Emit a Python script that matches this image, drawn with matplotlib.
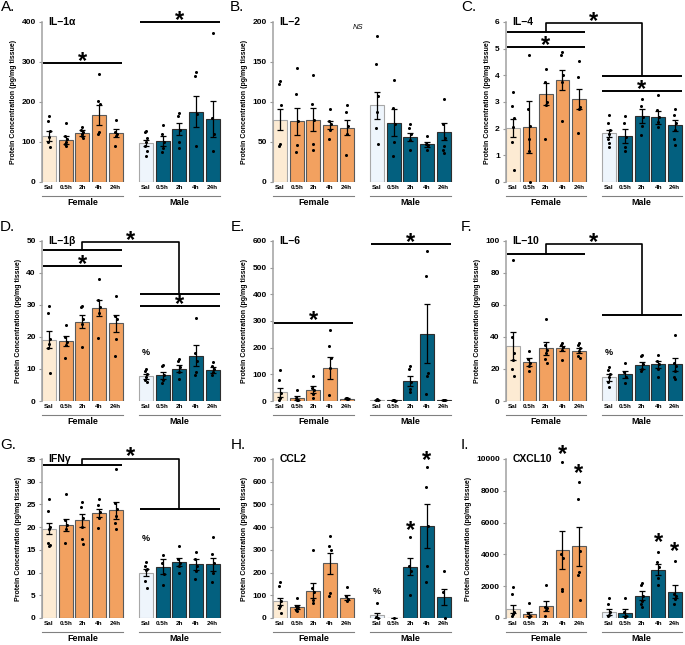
import matplotlib
matplotlib.use("Agg")
import matplotlib.pyplot as plt
import matplotlib.transforms as mtransforms

plt.rcParams["font.family"] = ["Liberation Sans", "DejaVu Sans"]

# bar layout: 5 female bars, gap, 5 male bars
LABELS = ["Sal", "0.5h", "2h", "4h", "24h", "Sal", "0.5h", "2h", "4h", "24h"]
POS = [0, 1, 2, 3, 4, 5.8, 6.8, 7.8, 8.8, 9.8]
GROUPS = ["Female", "Male"]

# A. IL-1a
il1a_mean = [115, 105, 122, 168, 123, 98, 102, 132, 176, 157]
il1a_sem = [13, 10, 7, 25, 10, 8, 12, 15, 39, 45]
il1a_pts = [[165, 152, 128, 112, 100, 88], [147, 115, 108, 100, 95, 90],
            [137, 130, 125, 120, 115, 110], [270, 203, 195, 125, 120],
            [155, 125, 120, 115, 90], [128, 125, 110, 100, 90, 78, 65],
            [143, 120, 100, 85, 75], [172, 165, 130, 100, 85],
            [275, 265, 170, 90], [373, 160, 120, 78]]

# B. IL-2
il2_mean = [78, 76, 78, 71, 68, 96, 74, 56, 47, 63]
il2_sem = [13, 17, 14, 5, 9, 17, 17, 5, 3, 11]
il2_pts = [[126, 123, 96, 48, 45], [143, 110, 76, 46, 37],
           [134, 97, 78, 48, 40], [91, 76, 72, 65, 54],
           [96, 88, 70, 60, 34], [183, 147, 107, 87, 67, 48],
           [127, 92, 73, 50, 32], [72, 68, 60, 52, 40],
           [57, 48, 46, 40], [104, 73, 55, 45, 40, 36]]

# C. IL-4
il4_mean = [2.02, 2.07, 3.3, 3.83, 3.12, 1.83, 1.72, 2.48, 2.43, 2.12]
il4_sem = [0.35, 0.97, 0.41, 0.38, 0.38, 0.13, 0.27, 0.25, 0.25, 0.19]
il4_pts = [[3.37, 2.85, 2.4, 2.05, 1.5, 0.45], [4.75, 2.75, 2.1, 1.6, 1.15, 0.0],
           [4.22, 3.75, 3.0, 2.9, 1.63], [4.87, 4.75, 4.0, 3.75, 2.28],
           [4.53, 3.95, 2.82, 2.75, 1.85], [2.5, 2.2, 1.95, 1.8, 1.6, 1.45, 1.3],
           [2.47, 2.2, 1.7, 1.3, 1.15], [3.1, 2.85, 2.45, 2.1, 1.75],
           [3.25, 2.7, 2.45, 2.25, 2.05], [2.73, 2.5, 2.2, 1.95, 1.6, 1.4]]

# D. IL-1b
il1b_mean = [19.2, 18.8, 24.8, 29.0, 24.3, 7.7, 8.0, 10.1, 14.1, 9.6]
il1b_sem = [2.6, 1.5, 2.0, 2.5, 2.7, 0.8, 1.2, 1.0, 3.3, 0.9]
il1b_pts = [[29.8, 27.5, 19.5, 17.8, 16.5, 8.8], [23.8, 20.0, 18.5, 17.5, 13.5],
            [29.8, 29.5, 25.5, 24.0, 17.0], [38.0, 31.5, 29.5, 27.5, 19.8],
            [32.7, 26.5, 25.5, 19.5, 14.2], [10.0, 9.5, 8.5, 7.5, 6.5, 5.8],
            [11.2, 10.8, 8.0, 6.5, 5.5], [13.0, 12.5, 10.5, 9.0, 7.0],
            [26.0, 15.0, 12.5, 9.0, 8.0], [12.3, 11.0, 10.0, 9.0, 8.0]]

# E. IL-6
il6_mean = [32, 10, 43, 125, 9, 4, 2, 75, 252, 3]
il6_sem = [16, 7, 12, 41, 1.5, 1, 0.5, 17, 110, 1]
il6_pts = [[118, 77, 30, 10, 5], [43, 10, 5, 2], [95, 50, 40, 25, 12],
           [267, 207, 160, 125, 22], [12, 10, 8, 7], [6, 4, 3], [3, 2, 1],
           [130, 120, 70, 45, 35], [563, 468, 105, 95, 25], [5, 3, 2]]

# F. IL-10
il10_mean = [34.5, 24.3, 33, 33, 31.5, 14.8, 16.8, 22.3, 22.9, 22.9]
il10_sem = [8.9, 2.3, 4, 1.5, 1.5, 2.2, 2.2, 2.2, 2, 4]
il10_pts = [[88, 40, 30, 25.5, 20, 15.5], [31, 26.5, 24, 22, 18.5],
            [51, 35, 32, 30, 26, 24], [36, 35, 34, 32, 25.5],
            [36.5, 35, 33, 31, 28, 27], [21, 19.5, 17, 15, 12, 8.5],
            [23.5, 18, 15, 11], [29, 28, 23, 20, 18.5],
            [28.5, 25, 23, 20, 15], [41, 23.5, 22, 19, 15, 13.5]]

# G. IFNg
ifng_mean = [19.7, 20.5, 21.5, 23.2, 23.7, 10.0, 11.3, 12.3, 11.8, 11.8]
ifng_sem = [1.2, 1.4, 1.5, 0.9, 1.9, 0.8, 1.6, 0.8, 1.2, 1.5]
ifng_pts = [[26.2, 23.5, 20, 19.5, 16.5, 16.0, 15.8], [27.2, 21.5, 20.5, 19.5, 16.5],
            [25.5, 24.5, 22, 20, 17.5, 16.2], [26.2, 24.8, 23.3, 22, 19.8],
            [32.9, 25.4, 24.0, 22.5, 21.0, 19.5], [12.3, 11.5, 10.8, 10.5, 8.2, 6.5],
            [13.8, 12.0, 9.6, 7.3], [15.8, 13.0, 12.0, 11.5, 10.0],
            [14.6, 13.0, 11.5, 10.3, 8.6], [17.8, 14.0, 12.0, 10.0, 8.0]]

# H. CCL2
ccl2_mean = [73, 48, 121, 241, 90, 12, 0, 225, 407, 93]
ccl2_sem = [17, 8, 35, 46, 10, 10, 0, 37, 97, 35]
ccl2_pts = [[160, 143, 75, 55, 45, 20], [88, 55, 48, 42, 35, 30],
            [300, 130, 115, 80, 65], [360, 315, 300, 110, 95],
            [138, 95, 85, 75], [68, 5, 0], [0],
            [358, 230, 205, 100], [665, 577, 405, 228, 160], [205, 115, 0]]

# I. CXCL10
cxcl10_mean = [550, 250, 750, 4280, 4500, 370, 330, 1400, 3050, 1660]
cxcl10_sem = [250, 150, 300, 1200, 1200, 170, 230, 270, 355, 390]
cxcl10_pts = [[1950, 1480, 400, 250, 100], [950, 300, 150, 50],
              [2100, 700, 650, 500, 100], [9830, 4000, 3800, 1800, 1700],
              [8550, 7470, 4200, 2900, 2700, 1150], [1280, 900, 400, 200, 100],
              [1250, 400, 150, 50], [2200, 2050, 1400, 1100, 850, 700],
              [4170, 3500, 3200, 2500, 2100], [3600, 1500, 1400, 1200, 900]]

FILL = ["#FDEBD3"] + ["#F2A160"] * 4 + ["#EEF5FC"] + ["#03607F"] * 4
EDGE = ["#A8A8A8"] + ["#5A5A5A"] * 4 + ["#A8A8A8"] + ["#2E2E2E"] * 4
JIT = [0.0, -0.06, 0.06, 0.0, -0.04, 0.04, 0.0]
SPAN = {"F": (-0.36, 4.38), "M": (5.42, 10.22)}
UNDER = [(-0.42, 4.42), (5.38, 10.22)]
FC, MC = 2.0, 7.8

W, H = 685, 645
COLS = [(42, 222), (273, 453), (506, 684)]
ROWS = [(22, 182), (241, 401), (459, 618)]
LETTER_POS = [(1, 7), (230, 7), (461, 7), (0, 227), (231, 227), (461, 227),
              (0, 445), (231, 445), (461, 445)]

fig = plt.figure(figsize=(W / 100, H / 100), dpi=100)


def make_ax(i):
    l, r = COLS[i % 3]
    t, b = ROWS[i // 3]
    return fig.add_axes([l / W, 1 - b / H, (r - l) / W, (b - t) / H])


def draw(ax, mean, sem, pts, ymax, step, title):
    ax.bar(POS, mean, width=0.84, color=FILL, edgecolor=EDGE, linewidth=0.8, zorder=2)
    ax.errorbar(POS, mean, yerr=sem, fmt="none", ecolor="black", elinewidth=0.9,
                capsize=2.5, capthick=0.9, zorder=4)
    for x, vals in zip(POS, pts):
        xs = [x + JIT[i % len(JIT)] for i in range(len(vals))]
        ax.plot(xs, vals, "o", color="black", ms=2.2, mew=0, zorder=3, clip_on=False)

    ax.set_xlim(-0.42, 10.36)
    ax.set_ylim(0, ymax)
    ticks = [k * step for k in range(int(round(ymax / step)) + 1)]
    ax.set_yticks(ticks)
    ax.set_yticklabels([f"{t:g}" for t in ticks], fontsize=6, fontweight="bold")
    ax.set_xticks(POS)
    ax.set_xticklabels(LABELS, fontsize=4.6, fontweight="bold")
    ax.tick_params(axis="x", length=0, pad=2.5)
    ax.tick_params(axis="y", length=2.5, width=0.8, color="#999999", pad=2)
    for s in ["top", "right", "bottom"]:
        ax.spines[s].set_visible(False)
    ax.spines["left"].set_color("#A0A0A0")
    ax.spines["left"].set_linewidth(1.1)
    ax.set_ylabel("Protein Concentration (pg/mg tissue)", fontsize=5, fontweight="bold",
                  labelpad=3)

    ax.text(0.035, 1.0, title, transform=ax.transAxes, ha="left", va="center",
            fontsize=7.5, fontweight="bold")

    trans = mtransforms.blended_transform_factory(ax.transData, ax.transAxes)
    for g, (x0, x1) in zip(GROUPS, UNDER):
        ax.plot([x0, x1], [-0.085, -0.085], transform=trans, color="#808080", lw=0.8,
                clip_on=False)
        ax.text((x0 + x1) / 2, -0.128, g, transform=trans, ha="center", va="center",
                fontsize=6.4, fontweight="bold")


def hline(ax, grp, y):
    x0, x1 = SPAN[grp]
    ax.plot([x0, x1], [y, y], color="black", lw=1.4, clip_on=False,
            solid_capstyle="butt", zorder=5)


def bracket(ax, yl, ytop, yr):
    ax.plot([FC, FC, MC, MC], [yl, ytop, ytop, yr], color="black", lw=1.2,
            clip_on=False, zorder=5)


def star(ax, x, y):
    ax.annotate("*", (x, y), xytext=(0, -3.5), textcoords="offset points",
                ha="center", va="baseline", fontsize=17, fontweight="bold",
                annotation_clip=False, zorder=6)


def pct(ax, y):
    ax.text(POS[5], y, "%", ha="center", va="center", fontsize=6.5,
            fontweight="bold", zorder=6)


panels = [
    (il1a_mean, il1a_sem, il1a_pts, 400, 100, "IL\u22121\u03b1"),
    (il2_mean, il2_sem, il2_pts, 200, 50, "IL\u22122"),
    (il4_mean, il4_sem, il4_pts, 6, 1, "IL\u22124"),
    (il1b_mean, il1b_sem, il1b_pts, 50, 10, "IL\u22121\u03b2"),
    (il6_mean, il6_sem, il6_pts, 600, 100, "IL\u22126"),
    (il10_mean, il10_sem, il10_pts, 100, 20, "IL\u221210"),
    (ifng_mean, ifng_sem, ifng_pts, 35, 5, "IFN\u03b3"),
    (ccl2_mean, ccl2_sem, ccl2_pts, 700, 100, "CCL2"),
    (cxcl10_mean, cxcl10_sem, cxcl10_pts, 10000, 2000, "CXCL10"),
]

axes = []
for i, p in enumerate(panels):
    ax = make_ax(i)
    draw(ax, *p)
    axes.append(ax)
    lx, ly = LETTER_POS[i]
    fig.text(lx / W, 1 - ly / H, "ABCDEFGHI"[i] + ".", ha="left", va="center",
             fontsize=11)

# A
hline(axes[0], "F", 298); star(axes[0], FC, 298)
hline(axes[0], "M", 400); star(axes[0], MC, 400)
# B
axes[1].text(4.65, 193, "NS", ha="center", va="center", fontsize=5.5, style="italic")
# C
hline(axes[2], "F", 5.07); star(axes[2], FC, 5.07)
hline(axes[2], "F", 5.63)
hline(axes[2], "M", 3.97)
hline(axes[2], "M", 3.41); star(axes[2], MC, 3.41)
bracket(axes[2], 5.63, 5.95, 3.97); star(axes[2], (FC + MC) / 2, 5.95)
# D
hline(axes[3], "F", 42.2); star(axes[3], FC, 42.2)
hline(axes[3], "F", 47.2)
hline(axes[3], "M", 33.3)
hline(axes[3], "M", 29.6); star(axes[3], MC, 29.6)
bracket(axes[3], 47.2, 49.6, 33.3); star(axes[3], (FC + MC) / 2, 49.6)
pct(axes[3], 15.0)
# E
hline(axes[4], "F", 294); star(axes[4], FC, 294)
hline(axes[4], "M", 590); star(axes[4], MC, 590)
# F
hline(axes[5], "F", 92)
hline(axes[5], "M", 54)
bracket(axes[5], 92, 98, 54); star(axes[5], (FC + MC) / 2, 98)
pct(axes[5], 30)
# G
hline(axes[6], "F", 33.7)
hline(axes[6], "M", 24.0)
bracket(axes[6], 33.7, 35.1, 24.0); star(axes[6], (FC + MC) / 2, 35.1)
pct(axes[6], 17.5)
# H
star(axes[7], POS[7], 380)
star(axes[7], POS[8], 685)
pct(axes[7], 116)
# I
star(axes[8], POS[3], 10200)
star(axes[8], POS[4], 8960)
star(axes[8], POS[8], 4630)
star(axes[8], POS[9], 4050)

fig.savefig("out.png", dpi=100)
